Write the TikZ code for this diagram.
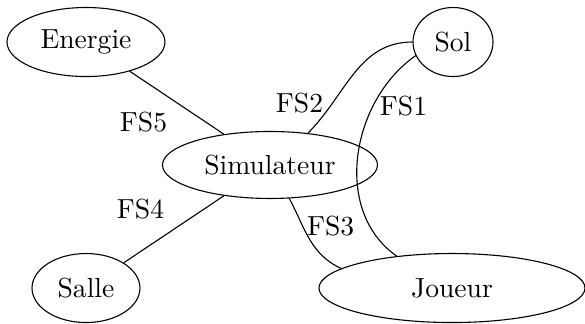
\documentclass[tikz,border=0pt]{standalone}
\usetikzlibrary{shapes.geometric}
\usetikzlibrary{positioning}

\begin{document}
\begin{tikzpicture}[
    milieu/.style={
        ellipse,
        draw=black,
        inner sep=0pt,
        minimum height=0.879cm
    }
]
\useasboundingbox (0,-4.126) rectangle (7.45,0);

\node[milieu, minimum width=2.012cm] (energie) at (1.095,-0.535) {Energie};
\node[milieu, minimum width=1.019cm] (sol)     at (5.769,-0.535) {Sol};
\node[milieu, minimum width=2.738cm, minimum height=0.853cm] (simu) at (3.438,-2.101) {Simulateur};
\node[milieu, minimum width=1.375cm] (salle)   at (1.095,-3.668) {Salle};
\node[milieu, minimum width=3.388cm] (joueur)  at (5.756,-3.668) {Joueur};

\draw (energie) -- node[below left] {FS5} (simu);
\draw (salle) -- node[above left] {FS4} (simu);

\draw (simu.40) to[out=45, in=180] node[pos=0.25, left] {FS2} (sol.west);
\draw (sol.200) to[out=215, in=145] node[pos=0.28, right, xshift=-1pt] {FS1} (joueur.150);
\draw (simu.-60) to[out=-62, in=155] node[pos=0.33, right, xshift=-2pt] {FS3} (joueur.170);
\end{tikzpicture}
\end{document}
